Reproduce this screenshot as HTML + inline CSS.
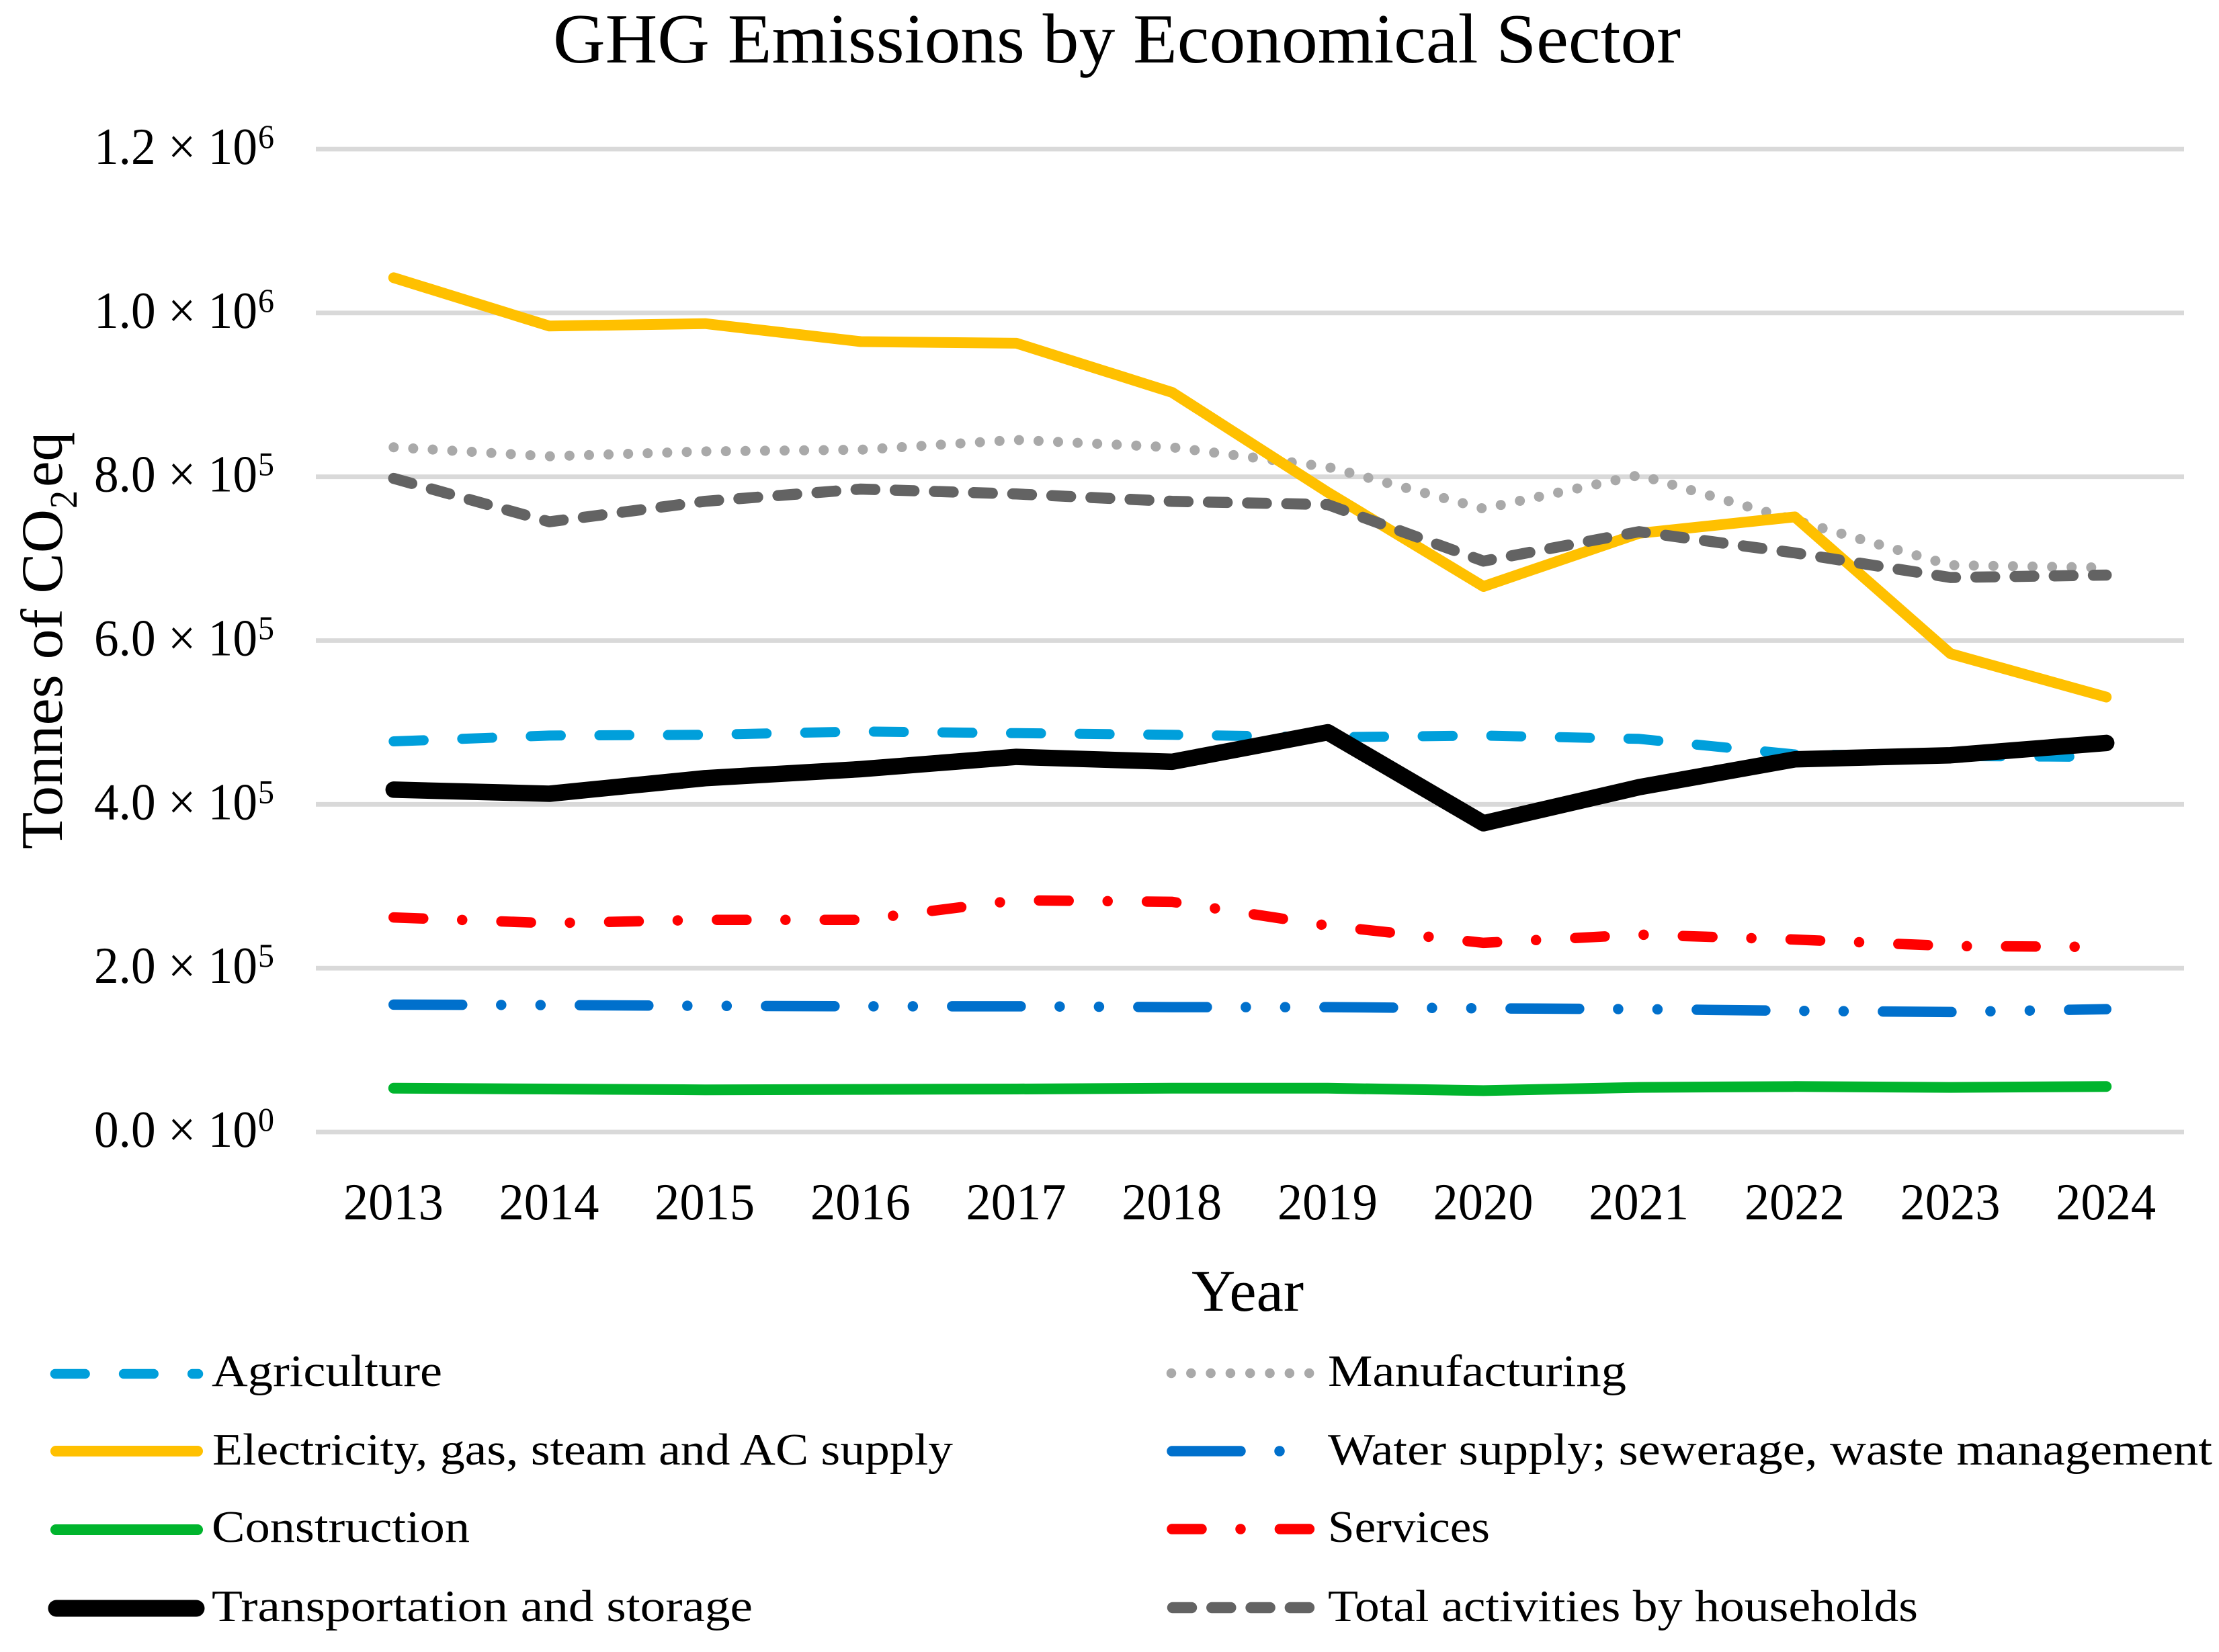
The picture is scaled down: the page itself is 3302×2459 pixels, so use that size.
<!DOCTYPE html>
<html lang="en">
<head>
<meta charset="utf-8">
<title>GHG Emissions by Economical Sector</title>
<style>
  html, body { margin: 0; padding: 0; background: #ffffff; }
  svg { display: block; }
  text { font-family: "Liberation Serif", serif; fill: #000000; }
</style>
</head>
<body>
<svg id="chart" xmlns="http://www.w3.org/2000/svg" width="3302" height="2459" viewBox="0 0 3302 2459">
  <rect x="0" y="0" width="3302" height="2459" fill="#ffffff"/>
  <text x="823" y="93" font-size="105" textLength="1678" lengthAdjust="spacingAndGlyphs">GHG Emissions by Economical Sector</text>
  <g id="grid"></g>
  <g id="yticks"></g>
  <g id="xticks"></g>
  <g id="lines"></g>
  <text x="1773" y="1951" font-size="88" textLength="167" lengthAdjust="spacingAndGlyphs">Year</text>
  <g transform="translate(92,1264) rotate(-90)">
    <text x="0" y="0" font-size="88" textLength="506" lengthAdjust="spacingAndGlyphs">Tonnes of CO</text>
    <text x="507" y="22" font-size="58" textLength="27" lengthAdjust="spacingAndGlyphs">2</text>
    <text x="539" y="0" font-size="88" textLength="82" lengthAdjust="spacingAndGlyphs">eq</text>
  </g>
  <g>
    <g>
      <line x1="82" y1="2045" x2="295" y2="2045" stroke="#009fdb" stroke-width="14.5" stroke-linecap="round" stroke-dasharray="44.6 57.5"/>
      <text x="315" y="2063" font-size="67" textLength="343" lengthAdjust="spacingAndGlyphs">Agriculture</text>
    </g>
    <g>
      <line x1="83" y1="2160" x2="294" y2="2160" stroke="#ffc000" stroke-width="16" stroke-linecap="round"/>
      <text x="316" y="2180" font-size="67" textLength="1102" lengthAdjust="spacingAndGlyphs">Electricity, gas, steam and AC supply</text>
    </g>
    <g>
      <line x1="83" y1="2277" x2="294" y2="2277" stroke="#00b42d" stroke-width="16" stroke-linecap="round"/>
      <text x="315" y="2295" font-size="67" textLength="384" lengthAdjust="spacingAndGlyphs">Construction</text>
    </g>
    <g>
      <line x1="84" y1="2394" x2="292" y2="2394" stroke="#000000" stroke-width="25" stroke-linecap="round"/>
      <text x="315" y="2413" font-size="67" textLength="805" lengthAdjust="spacingAndGlyphs">Transportation and storage</text>
    </g>
    <g>
      <line x1="1743" y1="2044" x2="1950" y2="2044" stroke="#a9a9a9" stroke-width="14.5" stroke-linecap="round" stroke-dasharray="0.01 29.3"/>
      <text x="1976" y="2063" font-size="67" textLength="444" lengthAdjust="spacingAndGlyphs">Manufacturing</text>
    </g>
    <g>
      <line x1="1744" y1="2160" x2="1949" y2="2160" stroke="#0070cc" stroke-width="15.5" stroke-linecap="round" stroke-dasharray="102 58 0.01 58.5 0.01 58.5"/>
      <text x="1976" y="2180" font-size="67" textLength="1316" lengthAdjust="spacingAndGlyphs">Water supply; sewerage, waste management</text>
    </g>
    <g>
      <line x1="1744" y1="2276" x2="1949" y2="2276" stroke="#ff0000" stroke-width="15.5" stroke-linecap="round" stroke-dasharray="44 58 0.01 58.4"/>
      <text x="1976" y="2295" font-size="67" textLength="241" lengthAdjust="spacingAndGlyphs">Services</text>
    </g>
    <g>
      <line x1="1745" y1="2393" x2="1948" y2="2393" stroke="#636363" stroke-width="16.5" stroke-linecap="round" stroke-dasharray="28 30.3"/>
      <text x="1976" y="2413" font-size="67" textLength="878" lengthAdjust="spacingAndGlyphs">Total activities by households</text>
    </g>
  </g>
</svg>
<script>
// Chart data (tonnes of CO2eq)
const years = [2013, 2014, 2015, 2016, 2017, 2018, 2019, 2020, 2021, 2022, 2023, 2024];
const agriculture = [477000, 484000, 485000, 489000, 487000, 485000, 482000, 484000, 480000, 461000, 459000, 458000];
const manufacturing = [836000, 825000, 831000, 833000, 845000, 836000, 812000, 761000, 802000, 747000, 692000, 689000];
const electricity = [1043000, 984000, 987000, 965000, 963000, 903000, 781000, 666000, 731000, 751000, 584000, 531000];
const water = [155500, 155000, 154000, 153500, 153500, 152500, 152500, 151000, 150000, 148000, 146500, 150000];
const construction = [53500, 52500, 51500, 52000, 52500, 53500, 53500, 50500, 54500, 55500, 54500, 55500];
const services = [262000, 255000, 259000, 259000, 283000, 281000, 252000, 231000, 241000, 235000, 227000, 226000];
const transportation = [418000, 413000, 432000, 443000, 458000, 452000, 488000, 377000, 421000, 455000, 460000, 475000];
const households = [798000, 745000, 770000, 785000, 779000, 770000, 766000, 697000, 733000, 707000, 677000, 680000];
const yTickValues = [0, 200000, 400000, 600000, 800000, 1000000, 1200000];
const yTickMantissas = ['0.0 × 10', '2.0 × 10', '4.0 × 10', '6.0 × 10', '8.0 × 10', '1.0 × 10', '1.2 × 10'];
const yTickExponents = ['0', '5', '5', '5', '5', '6', '6'];

// Axis functions
const plotLeft = 470, plotRight = 3250, plotBottom = 1685, plotTop = 222, yMax = 1200000;
const catWidth = (plotRight - plotLeft) / years.length;
function xScale(i) { return plotLeft + catWidth * (i + 0.5); }
function yScale(v) { return plotBottom - (v / yMax) * (plotBottom - plotTop); }

const NS = 'http://www.w3.org/2000/svg';
function make(tag, attrs) {
  const el = document.createElementNS(NS, tag);
  for (const k in attrs) el.setAttribute(k, attrs[k]);
  return el;
}

const gridGroup = document.getElementById('grid');
const yTickGroup = document.getElementById('yticks');
yTickValues.forEach(function (v, i) {
  const y = yScale(v);
  const rule = make('line', { x1: plotLeft, x2: plotRight, y1: y, y2: y, stroke: '#d9d9d9', 'stroke-width': 6.8 });
  
  
  gridGroup.appendChild(rule);

  const main = make('text', { x: 140, y: y + 22, 'font-size': 77, textLength: 243, lengthAdjust: 'spacingAndGlyphs' });
  
  
  main.textContent = yTickMantissas[i];
  yTickGroup.appendChild(main);

  const sup = make('text', { x: 384, y: y - 2, 'font-size': 50, textLength: 24, lengthAdjust: 'spacingAndGlyphs' });
  
  
  sup.textContent = yTickExponents[i];
  yTickGroup.appendChild(sup);
});

const xTickGroup = document.getElementById('xticks');
years.forEach(function (yr, i) {
  const t = make('text', { x: xScale(i) - 75, y: 1815, 'font-size': 77, textLength: 149, lengthAdjust: 'spacingAndGlyphs' });
  
  
  t.textContent = String(yr);
  xTickGroup.appendChild(t);
});

// Draw a series from its value array
const lineGroup = document.getElementById('lines');
function drawSeries(name, values, color, width, dash) {
  const pts = values.map(function (v, i) { return xScale(i).toFixed(1) + ',' + yScale(v).toFixed(1); }).join(' ');
  const line = make('polyline', { points: pts, fill: 'none', stroke: color, 'stroke-width': width, 'stroke-linecap': 'round', 'stroke-linejoin': 'round' });
  if (dash) line.setAttribute('stroke-dasharray', dash);
  
  
  lineGroup.appendChild(line);
}
drawSeries('line-agriculture', agriculture, '#009fdb', 15, '44.6 57.5');
drawSeries('line-manufacturing', manufacturing, '#a9a9a9', 15, '0.01 29.1');
drawSeries('line-electricity', electricity, '#ffc000', 16, '');
drawSeries('line-water-supply', water, '#0070cc', 15.5, '102 58 0.01 58.5 0.01 58.5');
drawSeries('line-construction', construction, '#00b42d', 16, '');
drawSeries('line-services', services, '#ff0000', 15.5, '44 58 0.01 58.4');
drawSeries('line-transportation', transportation, '#000000', 24.5, '');
drawSeries('line-households', households, '#636363', 16.5, '28 30.3');
</script>
</body>
</html>
